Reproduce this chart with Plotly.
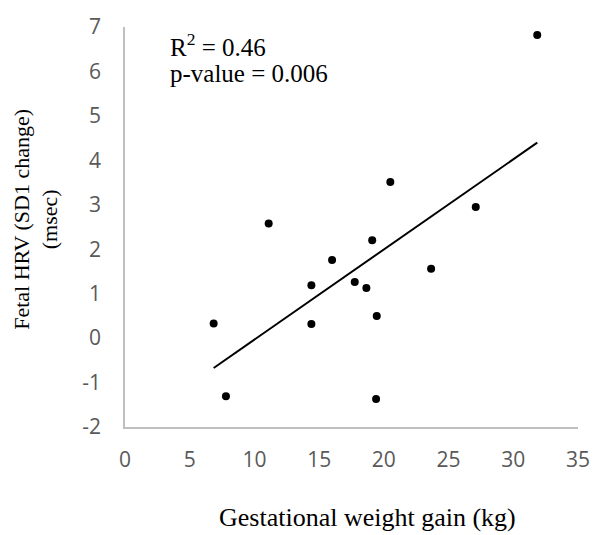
import numpy as np
import plotly.graph_objects as go

# Data
weight_gain = [6.85, 7.8, 11.1, 14.4, 14.4, 16.0, 17.75, 18.65, 19.1, 19.4, 19.45, 20.5, 23.65, 27.1, 31.85]
sd1_change = [0.33, -1.31, 2.58, 1.19, 0.32, 1.76, 1.26, 1.13, 2.2, -1.37, 0.5, 3.51, 1.56, 2.95, 6.82]

x_ticks = [0, 5, 10, 15, 20, 25, 30, 35]
y_ticks = [-2, -1, 0, 1, 2, 3, 4, 5, 6, 7]
y_tick_labels = [str(v) for v in y_ticks]  # plain hyphen minus, as in the reference

x_title = "Gestational weight gain (kg)"
y_title = "Fetal HRV (SD1 change)<br>(msec)"
r2_text = "R<sup>2</sup> = 0.46"
p_text = "p-value = 0.006"

# Linear trendline (least squares), drawn across the data range
slope, intercept = np.polyfit(weight_gain, sd1_change, 1)
trend_x = [min(weight_gain), max(weight_gain)]
trend_y = [slope * v + intercept for v in trend_x]

fig = go.Figure()
fig.add_trace(go.Scatter(x=trend_x, y=trend_y, mode="lines",
                         line=dict(color="black", width=2), hoverinfo="skip"))
fig.add_trace(go.Scatter(x=weight_gain, y=sd1_change, mode="markers",
                         marker=dict(color="black", size=8)))

tick_font = dict(family="Open Sans, Lato, sans-serif", size=21, color="#595959")
serif = "Liberation Serif, Times New Roman, serif"

fig.update_layout(
    width=612, height=535,
    margin=dict(l=125, r=34, t=18, b=108),
    paper_bgcolor="white", plot_bgcolor="white",
    showlegend=False,
    xaxis=dict(range=[0, 35], tickvals=x_ticks, showline=True, linecolor="#bfbfbf",
               linewidth=1.5, showgrid=False, zeroline=False, ticks="",
               tickfont=tick_font, ticklabelstandoff=13),
    yaxis=dict(range=[-2, 7], tickvals=y_ticks, ticktext=y_tick_labels, showline=True,
               linecolor="#bfbfbf", linewidth=1.5, showgrid=False, zeroline=False,
               ticks="", tickfont=tick_font, ticklabelstandoff=18),
    annotations=[
        dict(text=r2_text, xref="paper", yref="paper", x=0.095, y=0.955,
             xanchor="left", yanchor="middle", showarrow=False, align="left",
             font=dict(family=serif, size=25, color="black")),
        dict(text=p_text, xref="paper", yref="paper", x=0.095, y=0.885,
             xanchor="left", yanchor="middle", showarrow=False, align="left",
             font=dict(family=serif, size=25, color="black")),
        dict(text=x_title, xref="paper", yref="paper", x=0.535, y=-0.225,
             xanchor="center", yanchor="middle", showarrow=False,
             font=dict(family=serif, size=26, color="black")),
        dict(text=y_title, xref="paper", yref="paper", x=-0.197, y=0.52,
             xanchor="center", yanchor="middle", showarrow=False, textangle=-90,
             font=dict(family=serif, size=22, color="black")),
    ],
)

fig.write_html("out.html")
